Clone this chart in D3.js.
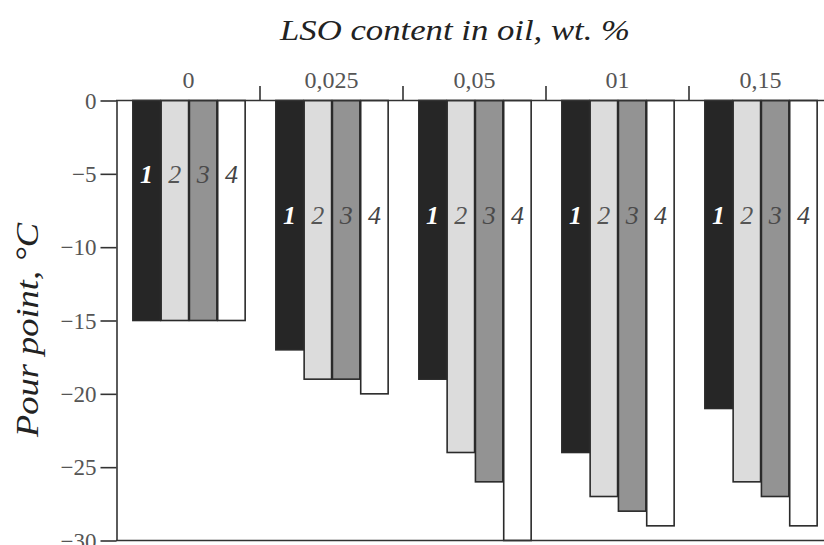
<!DOCTYPE html>
<html><head><meta charset="utf-8">
<script src="https://cdn.jsdelivr.net/npm/d3@7"></script>
<style>
body{margin:0;background:#fff}svg{display:block}
svg text{font-family:"Liberation Serif","Times New Roman","DejaVu Serif",Times,serif;}
</style>
</head><body>
<script>
const categories = ["0", "0,025", "0,05", "01", "0,15"];
const series = ["1", "2", "3", "4"];
const values1 = [-15, -17, -19, -24, -21];
const values2 = [-15, -19, -24, -27, -26];
const values3 = [-15, -19, -26, -28, -27];
const values4 = [-15, -20, -30, -29, -29];
const yTicks = [0, -5, -10, -15, -20, -25, -30];
const labelLevel = [-5, -7.8, -7.8, -7.8, -7.8];

const allValues = [values1, values2, values3, values4];
const W = 824, H = 545;
const svg = d3.select("body").append("svg").attr("width", W).attr("height", H);

const x0 = d3.scaleBand().domain(categories).range([117, 832]).padding(0);
const x1 = d3.scaleBand().domain(series).range([15, 129]).padding(0.03);
const y = d3.scaleLinear().domain([0, -30]).range([100.5, 540.5]);

const fills = ["#262626", "#dcdcdc", "#939393", "#ffffff"];
const labelFills = ["#ffffff", "#555", "#4a4a4a", "#444"];

// bars
const groups = svg.append("g").selectAll("g").data(categories).join("g")
  .attr("transform", d => `translate(${x0(d)},0)`);
groups.each(function(cat, gi) {
  const g = d3.select(this);
  series.forEach((s, si) => {
    const v = allValues[si][gi];
    g.append("rect")
      .attr("x", x1(s)).attr("y", y(0))
      .attr("width", x1.bandwidth()).attr("height", y(v) - y(0))
      .attr("fill", fills[si]).attr("stroke", "#2a2a2a").attr("stroke-width", 1.6);
    g.append("text")
      .attr("x", x1(s) + x1.bandwidth() / 2).attr("y", y(labelLevel[gi]) + 9)
      .attr("text-anchor", "middle")
      .style("font-style", "italic")
      .style("font-weight", si === 0 ? "bold" : "normal")
      .style("font-size", "26px").attr("fill", labelFills[si])
      .text(s);
  });
});

// top axis line and labels
svg.append("line").attr("x1", 116).attr("x2", W).attr("y1", 100.5).attr("y2", 100.5)
  .attr("stroke", "#333").attr("stroke-width", 1.6);
svg.append("g").selectAll("line").data(categories.slice(1)).join("line")
  .attr("x1", d => x0(d)).attr("x2", d => x0(d)).attr("y1", 100).attr("y2", 86)
  .attr("stroke", "#333").attr("stroke-width", 1.6);
svg.append("g").selectAll("text").data(categories).join("text")
  .attr("x", d => x0(d) + x0.bandwidth() / 2).attr("y", 88)
  .attr("text-anchor", "middle").style("font-size", "24px")
  .attr("fill", "#555").text(d => d);

// bottom line
svg.append("line").attr("x1", 116).attr("x2", W).attr("y1", 540.5).attr("y2", 540.5)
  .attr("stroke", "#333").attr("stroke-width", 1.6);

// left axis
const yAxis = svg.append("g").attr("transform", "translate(116.5,0)")
  .call(d3.axisLeft(y).tickValues(yTicks).tickSize(16).tickSizeOuter(0).tickPadding(4)
    .tickFormat(d => d === 0 ? "0" : "\u2212" + Math.abs(d)));
yAxis.attr("font-family", null);
yAxis.select(".domain").attr("stroke", "#333").attr("stroke-width", 1.6);
yAxis.selectAll(".tick line").attr("stroke", "#333").attr("stroke-width", 1.6);
yAxis.selectAll(".tick text").style("font-size", "23px").attr("fill", "#555").attr("dy", "0.34em");

// titles
svg.append("text").attr("x", 455).attr("y", 40).attr("text-anchor", "middle")
  .style("font-style", "italic").style("font-size", "29px")
  .attr("textLength", 350).attr("lengthAdjust", "spacingAndGlyphs")
  .attr("fill", "#222").text("LSO content in oil, wt. %");
svg.append("text").attr("transform", "translate(38,330) rotate(-90)")
  .attr("text-anchor", "middle").style("font-style", "italic")
  .style("font-size", "32px").attr("textLength", 214).attr("lengthAdjust", "spacingAndGlyphs")
  .attr("fill", "#222").text("Pour point, \u00B0C");
</script>
</body></html>
